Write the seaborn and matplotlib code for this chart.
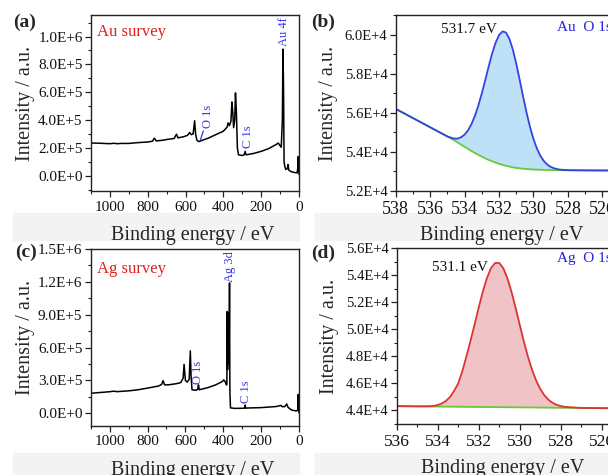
import math
import matplotlib
matplotlib.use('Agg')
import matplotlib.pyplot as plt
import seaborn as sns
from matplotlib.patches import Rectangle
from matplotlib.ticker import FuncFormatter, MultipleLocator, AutoMinorLocator

sns.set_style('ticks')
plt.rcParams['font.family'] = ['Liberation Serif', 'DejaVu Serif']

# Survey spectra (binding energy in eV, intensity in a.u.)
au_energy = [1100, 1050, 1000, 980, 960, 940, 900, 850, 800, 775, 765, 755, 720, 700,
             660, 648, 640, 610, 590, 578, 570, 560, 552, 547, 540, 530, 520, 480,
             440, 400, 380, 375, 368, 360, 355, 350, 346, 340, 336, 331, 326, 320,
             300, 290, 285, 280, 240, 200, 160, 120, 110, 100, 94, 88, 85, 82, 79,
             75, 70, 62, 58, 54, 40, 20, 10, 6, 4, 2, 0]
au_counts = [2.35e5, 2.33e5, 2.30e5, 2.33e5, 2.30e5, 2.32e5, 2.32e5, 2.38e5, 2.42e5,
             2.48e5, 2.70e5, 2.50e5, 2.55e5, 2.60e5, 2.68e5, 2.98e5, 2.72e5, 2.80e5,
             2.90e5, 3.10e5, 2.95e5, 3.00e5, 3.95e5, 3.00e5, 2.55e5, 2.45e5, 2.50e5,
             2.70e5, 2.95e5, 3.20e5, 3.50e5, 3.80e5, 3.60e5, 3.90e5, 5.30e5, 4.50e5,
             3.45e5, 4.00e5, 5.95e5, 4.50e5, 2.00e5, 1.50e5, 1.45e5, 1.50e5, 1.75e5,
             1.50e5, 1.60e5, 1.75e5, 1.95e5, 2.25e5, 2.35e5, 2.15e5, 2.05e5, 4.00e5,
             9.10e5, 6.50e5, 1.00e5, 0.65e5, 0.45e5, 0.50e5, 0.80e5, 0.40e5, 0.28e5,
             0.22e5, 0.20e5, 0.60e5, 1.38e5, 0.40e5, 0.10e5]

ag_energy = [1100, 1050, 1000, 980, 960, 900, 850, 800, 740, 725, 718, 710, 690, 650,
             625, 612, 607, 600, 590, 580, 574, 570, 565, 545, 535, 531, 527, 480,
             440, 405, 398, 390, 384, 381, 379, 377, 375, 373, 371, 369, 367, 365,
             362, 340, 300, 286, 284, 282, 200, 120, 95, 88, 75, 65, 58, 40, 15, 6,
             4, 2, 0]
ag_counts = [1.83e5, 1.90e5, 1.97e5, 2.02e5, 1.98e5, 2.05e5, 2.15e5, 2.30e5, 2.50e5,
             2.65e5, 2.98e5, 2.60e5, 2.60e5, 2.70e5, 2.80e5, 3.20e5, 4.47e5, 3.00e5,
             2.85e5, 3.10e5, 5.70e5, 3.40e5, 2.15e5, 2.10e5, 2.20e5, 2.60e5, 2.15e5,
             2.35e5, 2.60e5, 2.90e5, 3.05e5, 2.90e5, 2.60e5, 2.60e5, 9.30e5, 4.00e5,
             9.20e5, 4.50e5, 9.00e5, 5.00e5, 1.19e6, 2.00e5, 0.50e5, 0.45e5, 0.46e5,
             0.48e5, 0.76e5, 0.48e5, 0.52e5, 0.62e5, 0.72e5, 0.60e5, 0.62e5, 0.85e5,
             0.55e5, 0.30e5, 0.22e5, 0.30e5, 1.73e5, 0.30e5, 0.05e5]

# O 1s high resolution, Au sample
au_o_energy = [538, 537.5, 537, 536.5, 536, 535.5, 535, 534.8, 534.6, 534.4, 534.2,
               534.0, 533.8, 533.6, 533.4, 533.2, 533.0, 532.8, 532.6, 532.4, 532.2,
               532.0, 531.8, 531.6, 531.4, 531.2, 531.0, 530.8, 530.6, 530.4, 530.2,
               530.0, 529.8, 529.6, 529.4, 529.2, 529.0, 528.8, 528.6, 528.4, 528,
               527, 526, 525, 524]
au_o_env = [56200, 55965, 55730, 55495, 55260, 55025, 54790, 54730, 54680, 54680,
            54750, 54880, 55100, 55422, 55841, 56370, 56992, 57670, 58370, 59030,
            59580, 59970, 60160, 60105, 59790, 59240, 58510, 57680, 56820, 56005,
            55270, 54657, 54167, 53798, 53534, 53353, 53233, 53160, 53115, 53088,
            53065, 53055, 53050, 53050, 53050]
au_o_bg = [56200, 55965, 55730, 55495, 55260, 55025, 54790, 54690, 54590, 54480,
           54370, 54260, 54150, 54045, 53945, 53850, 53760, 53670, 53590, 53520,
           53450, 53390, 53340, 53290, 53250, 53210, 53180, 53160, 53140, 53125,
           53110, 53100, 53090, 53085, 53080, 53075, 53070, 53068, 53065, 53062,
           53060, 53055, 53050, 53050, 53050]

# O 1s high resolution, Ag sample
ag_o_energy = [536, 535, 534.4, 534.2, 534.0, 533.8, 533.6, 533.4, 533.2, 533.0,
               532.8, 532.6, 532.4, 532.2, 532.0, 531.8, 531.6, 531.4, 531.2, 531.0,
               530.8, 530.6, 530.4, 530.2, 530.0, 529.8, 529.6, 529.4, 529.2, 529.0,
               528.8, 528.6, 528.4, 528.2, 528.0, 527.8, 527, 526, 525, 524]
ag_o_env = [44320, 44305, 44310, 44340, 44400, 44520, 44700, 45000, 45450, 46000,
            46900, 48000, 49152, 50371, 51616, 52792, 53794, 54531, 54918, 54915,
            54522, 53779, 52771, 51589, 50338, 49113, 47989, 47017, 46218, 45594,
            45128, 44795, 44567, 44417, 44323, 44265, 44185, 44170, 44165, 44160]
ag_o_bg = [44320, 44305, 44296, 44293, 44290, 44287, 44284, 44281, 44278, 44275,
           44272, 44269, 44266, 44263, 44260, 44257, 44254, 44251, 44248, 44245,
           44242, 44239, 44236, 44233, 44230, 44227, 44224, 44221, 44218, 44215,
           44212, 44209, 44206, 44203, 44200, 44197, 44185, 44170, 44165, 44160]


def sci(v, pos):
    if abs(v) < 1e-9:
        return '0.0E+0'
    e = int(math.floor(math.log10(abs(v)) + 1e-9))
    return f'{v / 10 ** e:.1f}E+{e}'


def style(ax, xsize, ysize):
    for s in ax.spines.values():
        s.set_color('#222222')
        s.set_linewidth(1.0)
    ax.tick_params(which='major', direction='out', length=4, width=0.9, colors='#222222')
    ax.tick_params(which='minor', direction='out', length=2, width=0.8, colors='#222222')
    ax.tick_params(axis='x', labelsize=xsize, labelcolor='#111111', pad=3)
    ax.tick_params(axis='y', labelsize=ysize, labelcolor='#111111', pad=2)
    ax.yaxis.set_major_formatter(FuncFormatter(sci))
    ax.xaxis.set_minor_locator(AutoMinorLocator(2))
    ax.yaxis.set_minor_locator(AutoMinorLocator(2))
    ax.set_xlabel('Binding energy / eV', fontsize=14.5)
    ax.set_ylabel('Intensity / a.u.', fontsize=14.5)


fig = plt.figure(figsize=(6.08, 4.75), dpi=100)

# light grey bands behind the x labels
for (x0, y0, w, h) in [(0.022, 0.495, 0.47, 0.057), (0.518, 0.495, 0.482, 0.057),
                       (0.022, 0.0, 0.47, 0.047), (0.518, 0.0, 0.482, 0.047)]:
    fig.patches.append(Rectangle((x0, y0), w, h, transform=fig.transFigure,
                                 color='#f3f3f3', zorder=-5))

ax_a = fig.add_axes([0.1497, 0.5979, 0.3421, 0.3705])
ax_b = fig.add_axes([0.6508, 0.5979, 0.3966, 0.3705])
ax_c = fig.add_axes([0.1492, 0.1038, 0.3426, 0.3720])
ax_d = fig.add_axes([0.6525, 0.1074, 0.4046, 0.3699])

# (a) Au survey
sns.lineplot(x=au_energy, y=au_counts, ax=ax_a, color='black', lw=1.1, estimator=None)
ax_a.set_xlim(1100, 0)
ax_a.set_ylim(-1.1e5, 1.155e6)
ax_a.xaxis.set_major_locator(MultipleLocator(200))
ax_a.yaxis.set_major_locator(MultipleLocator(2e5))
style(ax_a, 11, 11)
ax_a.text(0.03, 0.95, 'Au survey', transform=ax_a.transAxes, color='#e02020',
          fontsize=12, ha='left', va='top')
ax_a.text(78, 9.3e5, 'Au 4f', rotation=90, color='#3333ee', fontsize=9, ha='center', va='bottom')
ax_a.text(271, 2.0e5, 'C 1s', rotation=90, color='#3333ee', fontsize=9, ha='center', va='bottom')
ax_a.annotate('O 1s', xy=(522, 2.55e5), xytext=(480, 3.45e5), rotation=90,
              color='#3333ee', fontsize=9, ha='center', va='bottom',
              arrowprops=dict(arrowstyle='-', color='#3333ee', lw=0.9,
                              shrinkA=0, shrinkB=0))

# (b) Au O 1s
ax_b.fill_between(au_o_energy, au_o_bg, au_o_env, color='#bfe1f8', lw=0)
sns.lineplot(x=au_o_energy, y=au_o_bg, ax=ax_b, color='#66cc33', lw=1.3, estimator=None)
sns.lineplot(x=au_o_energy, y=au_o_env, ax=ax_b, color='#3344dd', lw=1.3, estimator=None)
ax_b.set_xlim(538, 524)
ax_b.set_ylim(5.2e4, 6.1e4)
ax_b.xaxis.set_major_locator(MultipleLocator(2))
ax_b.yaxis.set_major_locator(MultipleLocator(2e3))
style(ax_b, 13, 10.5)
ax_b.text(0.186, 0.915, '531.7 eV', transform=ax_b.transAxes, fontsize=11,
          ha='left', va='center', color='#111111')
ax_b.text(0.667, 0.93, 'Au  O 1s', transform=ax_b.transAxes, fontsize=11,
          ha='left', va='center', color='#2222dd')

# (c) Ag survey
sns.lineplot(x=ag_energy, y=ag_counts, ax=ax_c, color='black', lw=1.1, estimator=None)
ax_c.set_xlim(1100, 0)
ax_c.set_ylim(-1.13e5, 1.5e6)
ax_c.xaxis.set_major_locator(MultipleLocator(200))
ax_c.yaxis.set_major_locator(MultipleLocator(3e5))
style(ax_c, 11, 11)
ax_c.text(0.03, 0.93, 'Ag survey', transform=ax_c.transAxes, color='#e02020',
          fontsize=12, ha='left', va='top')
ax_c.text(362, 1.2e6, 'Ag 3d', rotation=90, color='#3333ee', fontsize=9, ha='center', va='bottom')
ax_c.text(532, 2.7e5, 'O 1s', rotation=90, color='#3333ee', fontsize=9, ha='center', va='bottom')
ax_c.text(282, 0.9e5, 'C 1s', rotation=90, color='#3333ee', fontsize=9, ha='center', va='bottom')

# (d) Ag O 1s
ax_d.fill_between(ag_o_energy, ag_o_bg, ag_o_env, color='#f0c4c6', lw=0)
sns.lineplot(x=ag_o_energy, y=ag_o_bg, ax=ax_d, color='#66cc33', lw=1.3, estimator=None)
sns.lineplot(x=ag_o_energy, y=ag_o_env, ax=ax_d, color='#dd3333', lw=1.3, estimator=None)
ax_d.set_xlim(536, 524)
ax_d.set_ylim(4.3e4, 5.6e4)
ax_d.xaxis.set_major_locator(MultipleLocator(2))
ax_d.yaxis.set_major_locator(MultipleLocator(2e3))
style(ax_d, 12.5, 10.5)
ax_d.text(0.145, 0.89, '531.1 eV', transform=ax_d.transAxes, fontsize=11,
          ha='left', va='center', color='#111111')
ax_d.text(0.65, 0.94, 'Ag  O 1s', transform=ax_d.transAxes, fontsize=11,
          ha='left', va='center', color='#2222dd')

# label positions
ax_a.xaxis.set_label_coords(0.49, -0.2)
ax_b.xaxis.set_label_coords(0.44, -0.2)
ax_c.xaxis.set_label_coords(0.49, -0.2)
ax_d.xaxis.set_label_coords(0.43, -0.2)
ax_a.yaxis.set_label_coords(-0.267, 0.5)
ax_c.yaxis.set_label_coords(-0.267, 0.5)
ax_b.yaxis.set_label_coords(-0.24, 0.5)
ax_d.yaxis.set_label_coords(-0.235, 0.5)

for lab, x, y in [('(a)', 0.041, 0.953), ('(b)', 0.531, 0.953),
                  ('(c)', 0.043, 0.469), ('(d)', 0.531, 0.467)]:
    fig.text(x, y, lab, fontsize=14, fontweight='bold', ha='center', va='center')

fig.savefig('out.png', dpi=100)
